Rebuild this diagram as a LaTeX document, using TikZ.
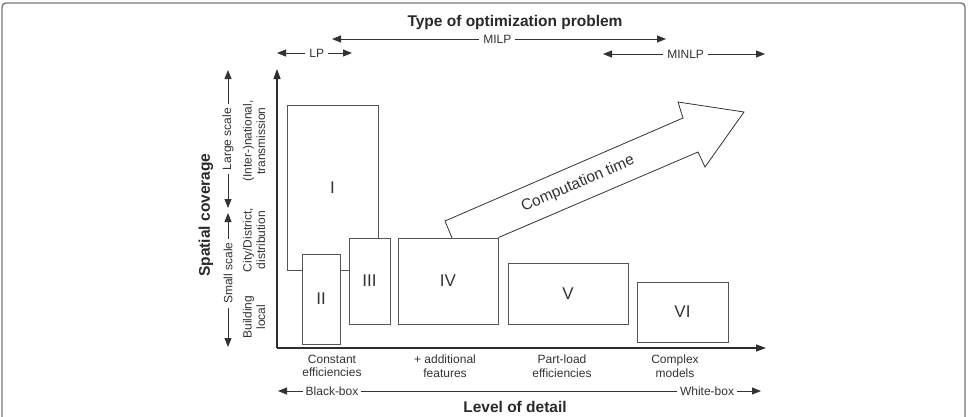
\documentclass[tikz,border=0pt]{standalone}
\usepackage{fontspec}
\setmainfont{Liberation Sans}
\usetikzlibrary{arrows.meta}
\definecolor{ink}{HTML}{333333}
\definecolor{boxline}{HTML}{555555}
\definecolor{framec}{HTML}{777777}
\begin{document}
\begin{tikzpicture}[x=1pt,y=-1pt,
  lbl/.style={text=ink,font=\fontsize{12}{13.5}\selectfont,inner sep=0pt},
  gaplbl/.style={lbl,fill=white,inner xsep=4pt,inner ysep=1pt},
  ttl/.style={text=ink!80!black,font=\fontsize{15.5}{17}\selectfont\bfseries,inner sep=0pt},
  arr/.style={draw=ink,line width=0.9pt,{Triangle[length=9pt,width=7pt]}-{Triangle[length=9pt,width=7pt]}},
  axisline/.style={draw=ink!90!black,line width=1.3pt,-{Triangle[length=10pt,width=7pt]}},
  bx/.style={draw=boxline,line width=0.9pt,fill=white,text=ink,
    font=\fontsize{17}{18}\selectfont,inner sep=0pt},
  bigarrow/.style={draw=ink,line width=0.8pt,fill=white,line join=miter}
]
\useasboundingbox (0,0) rectangle (968,416);
% outer frame
\draw[framec,line width=1.4pt,rounded corners=4pt] (2,3) rectangle (965,440);

% top: type of optimization problem
\node[ttl] (title) at (515,22) {Type of optimization problem};
\coordinate (milpL) at (332,39);
\coordinate (milpR) at (666,39);
\draw[arr] (milpL) -- (milpR) node[gaplbl,pos=0.495] (milp) {MILP};
\coordinate (lpL) at (277,53);
\coordinate (lpR) at (352,53);
\draw[arr] (lpL) -- (lpR) node[gaplbl,pos=0.53] (lp) {LP};
\coordinate (minlpL) at (603,54);
\coordinate (minlpR) at (765,54);
\draw[arr] (minlpL) -- (minlpR) node[gaplbl,pos=0.51] (minlp) {MINLP};

% axes
\coordinate (O) at (277,348);
\coordinate (ytip) at (277,69);
\coordinate (xtip) at (766,348);
\draw[axisline] (O) -- (ytip);
\draw[axisline] (O) -- (xtip);

% left labels
\node[ttl,rotate=90] (spatial) at (206,215) {Spatial coverage};
\coordinate (lsT) at (228,70);
\coordinate (lsB) at (228,208);
\draw[arr] (lsB) -- (lsT) node[gaplbl,rotate=90,midway,inner xsep=4pt] (large) {Large scale};
\coordinate (ssT) at (228,213);
\coordinate (ssB) at (228,347);
\draw[arr] (ssB) -- (ssT) node[gaplbl,rotate=90,pos=0.55,inner xsep=4pt] (small) {Small scale};
\node[lbl,rotate=90,align=center] (inter) at (254,141) {(Inter-)national,\\transmission};
\node[lbl,rotate=90,align=center] (city) at (254,240) {City/District,\\distribution};
\node[lbl,rotate=90,align=center] (bldg) at (254,317) {Building\\local};

% boxes
\node[bx,minimum width=91pt,minimum height=165pt] (I) at (332.5,187.5) {I};
\node[bx,minimum width=38pt,minimum height=90pt] (II) at (321,299) {II};
\node[bx,minimum width=41pt,minimum height=86pt] (III) at (369.5,281) {III};
\node[bx,minimum width=100pt,minimum height=86pt] (IV) at (448,281) {IV};
\node[bx,minimum width=120pt,minimum height=61pt] (V) at (568,293.5) {V};
\node[bx,minimum width=91pt,minimum height=60pt] (VI) at (682.5,312) {VI};

% computation time arrow
\draw[bigarrow] (452,238) -- (445,221) -- (683,118) -- (678,102) -- (744,112)
  -- (705,167) -- (698,152) -- (IV.north east);
\node[lbl,rotate=23.4,font=\fontsize{15.5}{17}\selectfont] (comp) at (578,184) {Computation time};

% bottom labels
\node[lbl,align=center] (c1) at (332,366) {Constant\\efficiencies};
\node[lbl,align=center] (c2) at (445,366) {+ additional\\features};
\node[lbl,align=center] (c3) at (562,366) {Part-load\\efficiencies};
\node[lbl,align=center] (c4) at (675,366) {Complex\\models};
\coordinate (bbL) at (278,391);
\coordinate (bbR) at (761,391);
\draw[arr] (bbL) -- (bbR);
\node[gaplbl,inner xsep=3pt] (black) at (332,391) {Black-box};
\node[gaplbl,inner xsep=3pt] (white) at (707,391) {White-box};
\node[ttl] (lod) at (515,407) {Level of detail};
\end{tikzpicture}
\end{document}
